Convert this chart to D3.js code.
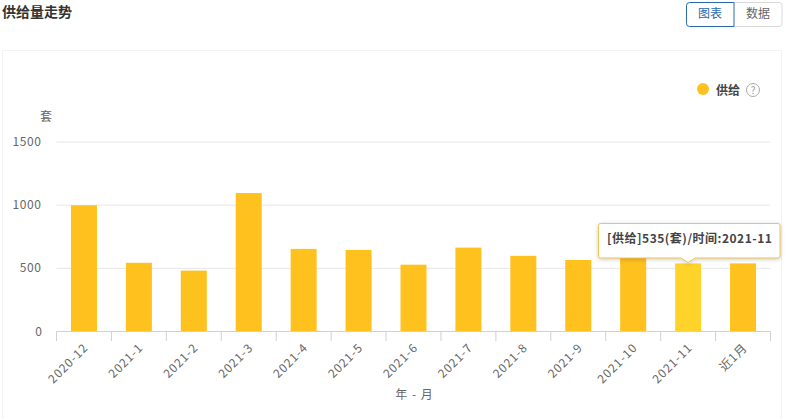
<!DOCTYPE html>
<html><head><meta charset="utf-8">
<script src="https://cdn.jsdelivr.net/npm/d3@7"></script>
<style>html,body{margin:0;padding:0;background:#fff;overflow:hidden}svg{display:block}
text{font-family:"Noto Sans CJK SC","Noto Sans",sans-serif}</style></head>
<body><svg id="c" width="785" height="419"></svg>
<script>
const categories=["2020-12","2021-1","2021-2","2021-3","2021-4","2021-5","2021-6","2021-7","2021-8","2021-9","2021-10","2021-11","近1月"];
const supply=[995,540,478,1092,650,642,525,660,595,562,600,535,535];
const yTicks=[0,500,1000,1500];
const highlighted="2021-11";
const svg=d3.select("#c");
const x=d3.scaleBand().domain(categories).range([56.5,770.5]);
const y=d3.scaleLinear().domain([0,1500]).range([331,141.5]);
const bw=26;
const textC="#666";

svg.append("rect").attr("x",2.5).attr("y",50.5).attr("width",779).attr("height",369).attr("fill","#fff").attr("stroke","#f3f3f3");
svg.append("text").attr("x",2).attr("y",17).attr("font-size",14).attr("font-weight",700).attr("fill","#333").text("供给量走势");

// toggle
svg.append("path").attr("d","M733.5 2.5H779a3 3 0 0 1 3 3V23.5a3 3 0 0 1-3 3H733.5Z").attr("fill","#fff").attr("stroke","#d9d9d9");
svg.append("path").attr("d","M689.5 2.5H734V26.5H689.5a3 3 0 0 1-3-3V5.5a3 3 0 0 1 3-3Z").attr("fill","#fff").attr("stroke","#2a6aa8");
svg.append("text").attr("x",710).attr("y",18).attr("text-anchor","middle").attr("font-size",12).attr("fill","#2a6aa8").text("图表");
svg.append("text").attr("x",758).attr("y",18).attr("text-anchor","middle").attr("font-size",12).attr("fill","#666").text("数据");

// legend
svg.append("circle").attr("cx",703).attr("cy",89).attr("r",6).attr("fill","#ffc11e");
svg.append("text").attr("x",716).attr("y",94.5).attr("font-size",12).attr("font-weight",700).attr("fill","#444").text("供给");
svg.append("circle").attr("cx",753).attr("cy",90).attr("r",6.5).attr("fill","none").attr("stroke","#aaa");
svg.append("text").attr("x",753).attr("y",94).attr("text-anchor","middle").attr("font-size",10).attr("fill","#999").text("?");

// grid and y labels
const gy=svg.append("g").attr("transform","translate(56.5,0)").call(d3.axisLeft(y).tickValues(yTicks.slice(1)).tickSize(-714).tickFormat(d3.format("d")).tickPadding(15));
gy.select(".domain").remove();
gy.selectAll(".tick line").attr("stroke","#e6e6e6");
gy.selectAll(".tick text").attr("font-size",12).attr("fill",textC).attr("letter-spacing",0.6);
svg.append("text").attr("x",42).attr("y",331+4.5).attr("text-anchor","end").attr("font-size",12).attr("fill",textC).text(yTicks[0]);
svg.append("text").attr("x",46).attr("y",121).attr("text-anchor","middle").attr("font-size",12).attr("fill",textC).text("套");

// bars
svg.append("g").selectAll("rect").data(categories).join("rect")
 .attr("x",d=>x(d)+x.bandwidth()/2-bw/2).attr("width",bw)
 .attr("y",(d,i)=>y(supply[i])).attr("height",(d,i)=>y(0)-y(supply[i]))
 .attr("fill",d=>d===highlighted?"#ffd32a":"#ffc11e");

// x axis
const gx=svg.append("g").attr("transform","translate(0,331.5)").call(d3.axisBottom(x).tickSize(0).tickFormat(d=>d));
gx.select(".domain").attr("stroke","#ccd0da").attr("d","M56.5,0H770.5");
const edges=categories.map(d=>x(d)).concat([x.range()[1]]);
svg.append("g").selectAll("line").data(edges).join("line").attr("x1",d=>d).attr("x2",d=>d).attr("y1",331.5).attr("y2",341).attr("stroke","#ccd0da");
gx.selectAll(".tick text").attr("font-size",12).attr("fill",textC).attr("text-anchor","end").attr("dy",0).attr("y",0).attr("letter-spacing",0.9)
 .attr("transform","translate(5,17) rotate(-45)");
svg.append("text").attr("x",414).attr("y",399).attr("text-anchor","middle").attr("font-size",12).attr("word-spacing",2).attr("fill",textC).text("年 - 月");

// tooltip
const idx=categories.indexOf(highlighted), cx=x(highlighted)+x.bandwidth()/2, ty=y(supply[idx]);
const tip=svg.append("g");
tip.append("path").attr("d",`M600.5 223.5H778a2 2 0 0 1 2 2V256a2 2 0 0 1-2 2H${cx+7}L${cx} ${ty-1}L${cx-7} 258H600.5a2 2 0 0 1-2-2V225.5a2 2 0 0 1 2-2Z`)
 .attr("fill","#fff").attr("stroke","#f2c552").attr("stroke-width",1).style("filter","drop-shadow(0 1px 2px rgba(0,0,0,.2))");
tip.append("text").attr("x",607).attr("y",243).attr("font-size",12).attr("font-weight",700).attr("fill","#444").attr("letter-spacing",0.5)
 .text(`[供给]${supply[idx]}(套)/时间:${highlighted}`);
</script></body></html>
